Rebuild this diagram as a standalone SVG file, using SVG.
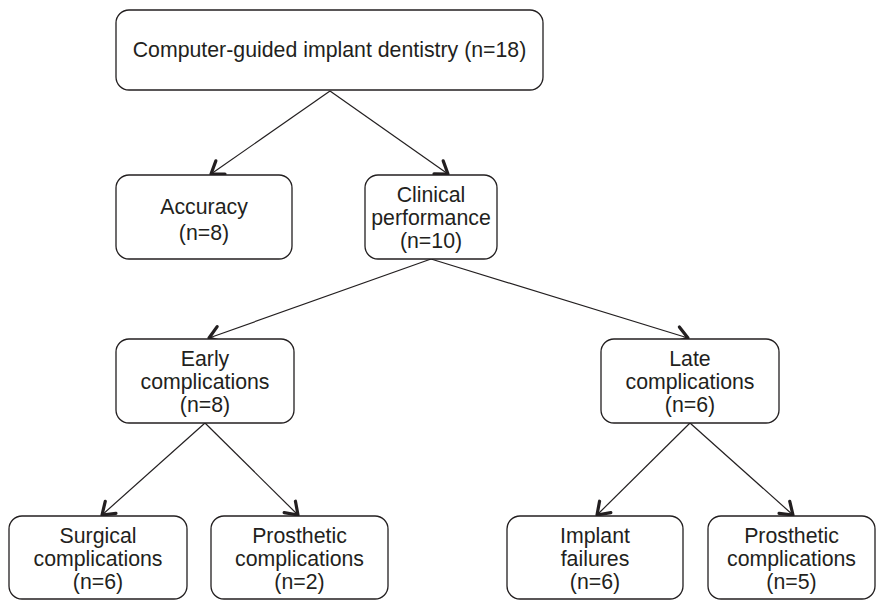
<svg xmlns="http://www.w3.org/2000/svg" width="876" height="600" viewBox="0 0 876 600">
<defs>
<marker id="arr" markerUnits="userSpaceOnUse" markerWidth="30" markerHeight="30" viewBox="-15 -15 30 30" refX="0" refY="0" orient="auto">
<path d="M-11.5,-8 L0,0 L-11.5,8" fill="none" stroke="#231f20" stroke-width="3.2" stroke-linecap="round" stroke-linejoin="round"/>
</marker>
</defs>
<style>
.box{fill:#fff;stroke:#231f20;stroke-width:1.3}
.t{font-family:"Liberation Sans",Arial,sans-serif;font-size:21.3px;fill:#231f20;text-anchor:middle}
.c{stroke:#231f20;stroke-width:1.2;fill:none;marker-end:url(#arr)}
</style>
<rect width="876" height="600" fill="#fff"/>
<g id="connectors">
<line class="c" x1="330" y1="91" x2="211" y2="174"/>
<line class="c" x1="330" y1="91" x2="448" y2="174"/>
<line class="c" x1="431" y1="259" x2="209" y2="338"/>
<line class="c" x1="431" y1="259" x2="688" y2="338"/>
<line class="c" x1="205" y1="423" x2="102" y2="515"/>
<line class="c" x1="205" y1="423" x2="298" y2="515"/>
<line class="c" x1="690" y1="423" x2="597" y2="515"/>
<line class="c" x1="690" y1="423" x2="793" y2="515"/>
</g>
<g id="root">
<rect class="box" x="116" y="10" width="427" height="80" rx="13"/>
<text class="t" x="329.5" y="57">Computer-guided implant dentistry (n=18)</text>
</g>
<g id="accuracy">
<rect class="box" x="116" y="175" width="176" height="84" rx="13"/>
<text class="t" x="204" y="214">Accuracy</text>
<text class="t" x="204" y="240">(n=8)</text>
</g>
<g id="clinical">
<rect class="box" x="365" y="175" width="132" height="84" rx="13"/>
<text class="t" x="431" y="202">Clinical</text>
<text class="t" x="431" y="225">performance</text>
<text class="t" x="431" y="248">(n=10)</text>
</g>
<g id="early">
<rect class="box" x="116" y="339" width="178" height="84" rx="13"/>
<text class="t" x="205" y="366">Early</text>
<text class="t" x="205" y="389">complications</text>
<text class="t" x="205" y="412">(n=8)</text>
</g>
<g id="late">
<rect class="box" x="601" y="339" width="178" height="84" rx="13"/>
<text class="t" x="690" y="366">Late</text>
<text class="t" x="690" y="389">complications</text>
<text class="t" x="690" y="412">(n=6)</text>
</g>
<g id="surgical">
<rect class="box" x="9" y="516" width="178" height="83" rx="13"/>
<text class="t" x="98" y="543">Surgical</text>
<text class="t" x="98" y="566">complications</text>
<text class="t" x="98" y="589">(n=6)</text>
</g>
<g id="prosthetic-early">
<rect class="box" x="211" y="516" width="177" height="83" rx="13"/>
<text class="t" x="299.5" y="543">Prosthetic</text>
<text class="t" x="299.5" y="566">complications</text>
<text class="t" x="299.5" y="589">(n=2)</text>
</g>
<g id="implant-failures">
<rect class="box" x="507" y="516" width="176" height="83" rx="13"/>
<text class="t" x="595" y="543">Implant</text>
<text class="t" x="595" y="566">failures</text>
<text class="t" x="595" y="589">(n=6)</text>
</g>
<g id="prosthetic-late">
<rect class="box" x="708" y="516" width="167" height="83" rx="13"/>
<text class="t" x="791.5" y="543">Prosthetic</text>
<text class="t" x="791.5" y="566">complications</text>
<text class="t" x="791.5" y="589">(n=5)</text>
</g>
</svg>
